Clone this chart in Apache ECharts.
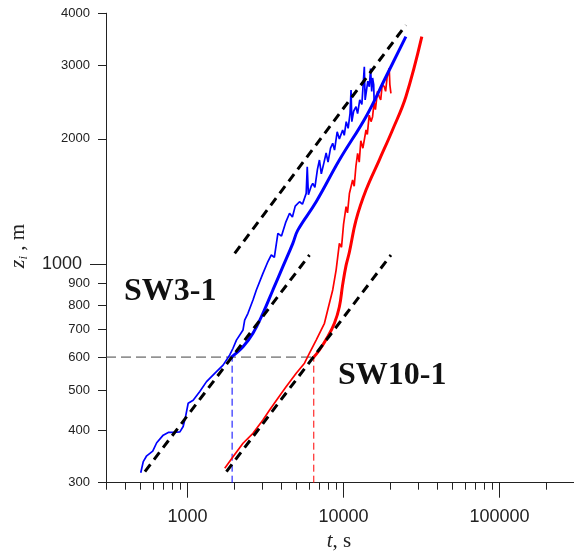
<!DOCTYPE html>
<html>
<head>
<meta charset="utf-8">
<script src="https://cdn.jsdelivr.net/npm/echarts@6/dist/echarts.min.js"></script>
<style>
  html, body { margin: 0; padding: 0; background: #fff; }
  #chart { width: 574px; height: 557px; }
</style>
</head>
<body>
<div id="chart"></div>
<script>
// SW3-1 measured (thin) and model (thick)
const sw3ObsT = [501, 520, 547, 598, 634, 698, 752, 809, 893, 937, 971, 1009, 1086, 1198, 1323, 1532, 1689, 1864, 1956, 2057, 2267, 2323, 2439, 2626, 2760, 3042,
  3250, 3442, 3600, 3793, 4000, 4250, 4506, 4700, 4900, 5220, 5450, 5759, 5850, 5950, 6200, 6347, 6550, 6800, 7004, 7200, 7500, 7731, 7950, 8250, 8520,
  8750, 9100, 9400, 9868, 10100, 10400, 10700, 11000, 11166, 11300, 11600, 12020, 12300, 12700, 13100, 13584, 13750, 14000, 14300, 14620, 14900, 15150, 15345, 15600, 15734];
const sw3ObsZ = [317, 337, 348, 357, 374, 390, 396, 396, 397, 409, 432, 465, 473, 496, 524, 554, 574, 607, 630, 659, 697, 736, 764, 822, 869, 952,
  1010, 1054, 1040, 1188, 1170, 1260, 1327, 1300, 1380, 1414, 1395, 1481, 1716, 1470, 1540, 1565, 1530, 1690, 1780, 1650, 1760, 1850, 1760, 1900, 1952,
  1880, 2080, 2000, 2101, 2040, 2200, 2120, 2300, 2619, 2200, 2330, 2389, 2300, 2480, 2420, 2979, 2480, 2600, 2750, 2668, 2950, 2600, 2800, 2700, 2389];
const sw3ModT = [1910, 2267, 2626, 3042, 3524, 4082, 4729, 5090, 6674, 9401, 13925, 18690, 25080];
const sw3ModZ = [600, 635, 684, 764, 869, 988, 1124, 1209, 1414, 1780, 2261, 2818, 3516];

// SW10-1 measured (thin) and model (thick)
const sw10ObsT = [1731, 1956, 2267, 2626, 3042, 3357, 3793, 4292, 4971, 5616, 6046, 6674, 7540, 7913, 8520, 8957, 9401, 9700, 10000, 10376, 10600, 10900,
  11431, 11700, 12000, 12307, 12600, 12900, 13300, 13925, 14200, 14600, 15000, 15345, 15700, 16000, 16500, 16934, 17300, 17700, 18227, 18600, 19000, 19617, 19800, 20116];
const sw10ObsZ = [325, 346, 373, 394, 424, 448, 478, 510, 549, 580, 613, 659, 723, 778, 869, 970, 1124, 1100, 1250, 1376, 1330, 1480,
  1594, 1540, 1720, 1847, 1760, 1980, 1900, 2101, 2050, 2280, 2200, 2261, 2450, 2350, 2600, 2524, 2480, 2700, 2668, 2600, 2800, 2953, 2700, 2572];
const sw10ModT = [6347, 7004, 7913, 8735, 9401, 9868, 10376, 10892, 12020, 13925, 16934, 20594, 25080, 31740];
const sw10ModZ = [596, 624, 671, 723, 792, 895, 995, 1070, 1278, 1508, 1780, 2101, 2524, 3516];

// t^(1/2) guide lines (end points)
const fitLowT = [533, 6046];
const fitLowZ = [319, 1054];
const fitHighT = [2005, 25080];
const fitHighZ = [1064, 3749];
const fitRedT = [1775, 20116];
const fitRedZ = [319, 1054];

// 600 m crossing
const crossZ = 600;
const crossT3 = 1930;
const crossT10 = 6442;

// axis ticks
const xMajorTicks = [1000, 10000, 100000];
const xMinorTicks = [300, 400, 500, 600, 700, 800, 900, 2000, 3000, 4000, 5000, 6000, 7000, 8000, 9000,
  20000, 30000, 40000, 50000, 60000, 70000, 80000, 90000, 200000];
const yMajorTicks = [1000];
const yMinorTicks = [300, 400, 500, 600, 700, 800, 900, 2000, 3000, 4000];

const zip = (a, b) => a.map((v, i) => [v, b[i]]);

const chart = echarts.init(document.getElementById('chart'));

const axisColor = '#222';
const baseX = {
  type: 'log', logBase: 10, min: 300, max: 300000, position: 'bottom',
  axisLine: { lineStyle: { color: axisColor, width: 1 } },
  splitLine: { show: false },
  minorTick: { show: false }
};
const baseY = {
  type: 'log', logBase: 10, min: 300, max: 4000, position: 'left',
  axisLine: { lineStyle: { color: axisColor, width: 1 } },
  splitLine: { show: false },
  minorTick: { show: false }
};
const fmt = v => String(Math.round(v));

function lineSeries(data, color, width, dash, z, smooth) {
  return {
    type: 'line', data: data, showSymbol: false, symbol: 'none', silent: true,
    smooth: smooth || false,
    lineStyle: { color: color, width: width, type: dash || 'solid' },
    z: z || 2, clip: true
  };
}

chart.setOption({
  animation: false,
  grid: { left: 106, top: 13.3, width: 469.5, height: 469.4 },
  xAxis: [
    Object.assign({}, baseX, {
      axisTick: { customValues: xMajorTicks, length: 15, lineStyle: { color: axisColor } },
      axisLabel: { customValues: xMajorTicks, formatter: fmt, fontSize: 18, fontFamily: 'Liberation Sans', color: axisColor, margin: 25 }
    }),
    Object.assign({}, baseX, {
      axisTick: { customValues: xMinorTicks, length: 7, lineStyle: { color: axisColor } },
      axisLabel: { show: false }
    })
  ],
  yAxis: [
    Object.assign({}, baseY, {
      axisTick: { customValues: yMajorTicks, length: 16, lineStyle: { color: axisColor } },
      axisLabel: { customValues: yMajorTicks, formatter: fmt, fontSize: 18, fontFamily: 'Liberation Sans', color: axisColor, margin: 24 }
    }),
    Object.assign({}, baseY, {
      axisTick: { customValues: yMinorTicks, length: 8, lineStyle: { color: axisColor } },
      axisLabel: { customValues: yMinorTicks, formatter: fmt, fontSize: 13, fontFamily: 'Liberation Sans', color: axisColor, margin: 16 }
    })
  ],
  series: [
    lineSeries(zip([300, crossT10], [crossZ, crossZ]), '#444', 1, [10, 5], 1),
    lineSeries(zip([crossT3, crossT3], [300, crossZ]), '#0000ff', 1, [7, 4], 1),
    lineSeries(zip([crossT10, crossT10], [300, crossZ]), '#ff0000', 1, [7, 4], 1),
    lineSeries(zip(sw3ObsT, sw3ObsZ), '#0000ff', 1.7),
    lineSeries(zip(sw10ObsT, sw10ObsZ), '#ff0000', 1.7),
    lineSeries(zip(sw3ModT, sw3ModZ), '#0000ff', 3, null, 2, 0.4),
    lineSeries(zip(sw10ModT, sw10ModZ), '#ff0000', 3, null, 2, 0.4),
    lineSeries(zip(fitLowT, fitLowZ), '#000', 3, [9, 6], 3),
    lineSeries(zip(fitHighT, fitHighZ), '#000', 3, [9, 6], 3),
    lineSeries(zip(fitRedT, fitRedZ), '#000', 3, [9, 6], 3)
  ],
  graphic: [
    {
      type: 'text', x: 18, y: 246, rotation: Math.PI / 2,
      style: {
        text: '{z|z}{i|i}{r| , m}', align: 'center', verticalAlign: 'middle', fill: '#222',
        rich: {
          z: { fontFamily: 'Liberation Serif', fontStyle: 'italic', fontSize: 22, lineHeight: 24, verticalAlign: 'middle' },
          i: { fontFamily: 'Liberation Serif', fontStyle: 'italic', fontSize: 13, lineHeight: 24, verticalAlign: 'bottom' },
          r: { fontFamily: 'Liberation Serif', fontSize: 21, lineHeight: 24, verticalAlign: 'middle' }
        }
      }
    },
    {
      type: 'text', x: 339, y: 541,
      style: {
        text: '{t|t}{r|, s}', align: 'center', verticalAlign: 'middle', fill: '#222',
        rich: {
          t: { fontFamily: 'Liberation Serif', fontStyle: 'italic', fontSize: 21 },
          r: { fontFamily: 'Liberation Serif', fontSize: 21 }
        }
      }
    },
    {
      type: 'text', x: 124, y: 292,
      style: { text: 'SW3-1', fontFamily: 'Liberation Serif', fontWeight: 'bold', fontSize: 32, fill: '#111', align: 'left', verticalAlign: 'middle' }
    },
    {
      type: 'text', x: 338, y: 376,
      style: { text: 'SW10-1', fontFamily: 'Liberation Serif', fontWeight: 'bold', fontSize: 32, fill: '#111', align: 'left', verticalAlign: 'middle' }
    }
  ]
});
</script>
</body>
</html>
